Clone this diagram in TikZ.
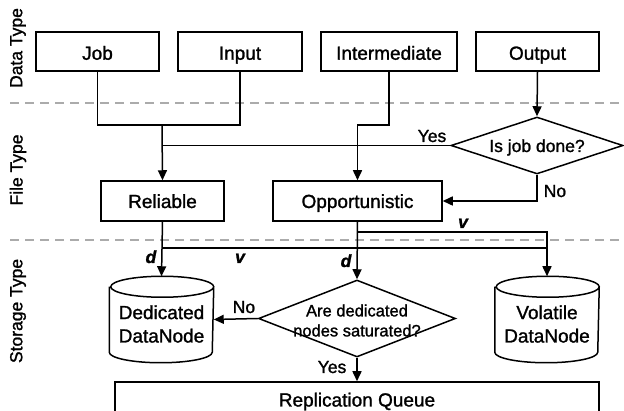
\documentclass[tikz,border=0pt]{standalone}
\usepackage{fontspec}
\setmainfont{Liberation Sans}[RawFeature={embolden=1.3}]
\usetikzlibrary{arrows.meta,shapes.geometric,calc}
\newcommand\cylpath[1]{%
  \draw ([yshift=-10.5pt]#1.north west) -- ([yshift=10.5pt]#1.south west)
    arc[start angle=180,end angle=360,x radius=51.5,y radius=10.5]
    -- ([yshift=-10.5pt]#1.north east)
    arc[start angle=0,end angle=360,x radius=51.5,y radius=10.5];}
\begin{document}
\begin{tikzpicture}[x=1pt,y=1pt,
  line width=1.5pt,
  box/.style={draw, minimum height=39pt, inner sep=0pt, text height=15pt, text depth=0pt,
              font=\fontsize{19}{23}\selectfont},
  dia/.style={draw, diamond, inner sep=0pt},
  dtxt/.style={font=\fontsize{17.5}{21}\selectfont, inner sep=0pt, align=center},
  arr/.style={-{Triangle[length=10pt,width=9pt]}},
  lbl/.style={font=\fontsize{17.5}{21}\selectfont, inner sep=0pt},
  dv/.style={font=\fontsize{17.5}{21}\selectfont\bfseries\itshape, inner sep=0pt},
  side/.style={rotate=90, font=\fontsize{17.5}{21}\selectfont, inner sep=0pt},
  sep/.style={draw=black!33, line width=2pt, dash pattern=on 9pt off 6pt},
  cyl/.style={minimum width=103pt, minimum height=85pt, inner sep=0pt},
  ctxt/.style={font=\fontsize{19}{23.4}\selectfont, inner sep=0pt, align=center, yshift=-4.5pt}
]
\useasboundingbox (0,0) rectangle (624,-411);

% separators
\coordinate (s1a) at (10,-103); \coordinate (s1b) at (624,-103);
\coordinate (s2a) at (10,-240); \coordinate (s2b) at (624,-240);
\draw[sep] (s1a) -- (s1b);
\draw[sep] (s2a) -- (s2b);

% side labels
\node[side] (lt1) at (18,-48) {Data Type};
\node[side] (lt2) at (18,-170) {File Type};
\node[side] (lt3) at (18,-311) {Storage Type};

% data type boxes
\tikzset{toprow/.style={box, text height=16.5pt}}
\node[toprow, minimum width=123pt] (job) at (97.5,-51.5) {Job};
\node[toprow, minimum width=124pt] (input) at (240,-51.5) {Input};
\node[toprow, minimum width=136pt] (inter) at (389,-51.5) {Intermediate};
\node[toprow, minimum width=123pt] (output) at (537.5,-51.5) {Output};

% file type
\node[box, minimum width=123pt, minimum height=40pt, text height=14pt] (rel) at (162.5,-201) {Reliable};
\node[box, minimum width=169pt, minimum height=40pt, text height=14pt] (opp) at (357.5,-201) {Opportunistic};
\node[dia, minimum width=172pt, minimum height=57pt,
      label={[dtxt, text height=13pt, text depth=0pt]center:Is job done?}] (jdone) at (537,-145.5) {};

% storage type
\node[cyl, label={[ctxt]center:{Dedicated\\DataNode}}] (ded) at (161.5,-319.5) {};
\node[cyl, label={[ctxt]center:{Volatile\\DataNode}}] (vol) at (547,-319.5) {};
\cylpath{ded}
\cylpath{vol}
\node[dia, minimum width=197pt, minimum height=77pt,
      label={[dtxt,font=\fontsize{16.5}{20}\selectfont,yshift=-2pt]center:{Are dedicated\\nodes saturated?}}] (sat) at (357,-318.5) {};
\node[box, minimum width=484pt, minimum height=34pt] (rq) at (357,-399) {Replication Queue};

% connectors: data -> file
\coordinate (j1) at (162,-125);
\coordinate (y1) at (162,-145.5);
\draw (job.south) |- (j1) -| (input.south);
\draw[arr] (j1) -- (rel.north);
\draw (jdone.west) -- (y1);
\node[lbl, anchor=base east] (yes1) at (447,-142) {Yes};
\draw[arr] (output.south) -- (jdone.north);
\draw[arr] (jdone.south) |- (opp.east);
\node[lbl, anchor=base west] (no1) at (543,-197) {No};
\coordinate (i1) at (389,-125);
\draw[arr] (inter.south) -- (i1) -| (opp.north);

% file -> storage
\draw[arr] (rel.south) -- (ded.north);
\node[dv, anchor=base east] (d1) at (157,-263) {d};
\coordinate (r1) at (162.5,-248);
\coordinate (v1) at (547,-248);
\draw (r1) -- (v1);
\node[dv, anchor=base] (vl1) at (240,-263) {v};
\draw[arr] (opp.south) -- (sat.north);
\node[dv, anchor=base] (d2) at (346,-267) {d};
\coordinate (o1) at (357.5,-232);
\draw[arr] (o1) -| (vol.north);
\node[dv, anchor=base] (vl2) at (463,-228) {v};

% decision
\draw[arr] (sat.west) -- (ded.east);
\node[lbl, anchor=base west] (no2) at (232,-313) {No};
\draw[arr] (sat.south) -- (sat.south |- rq.north);
\node[lbl, anchor=base west] (yes2) at (317,-373) {Yes};
\end{tikzpicture}
\end{document}
